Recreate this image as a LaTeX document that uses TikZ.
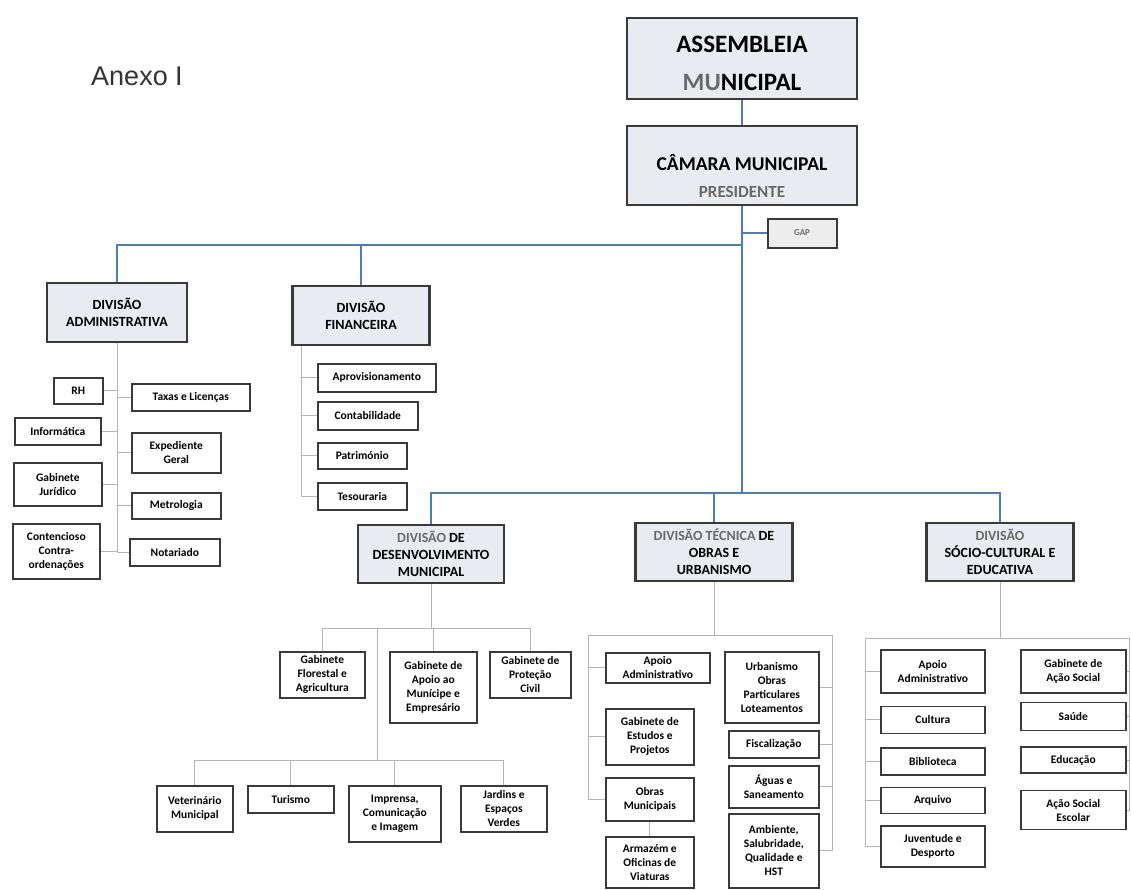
\documentclass[tikz,border=0pt]{standalone}
\usepackage{fontspec}
\setmainfont{Carlito}
\newfontfamily\anexofont{Liberation Sans}
\usepackage{xcolor}
\usetikzlibrary{positioning}
\definecolor{divfill}{HTML}{E8ECF0}
\definecolor{linkblue}{HTML}{4F7DBA}
\definecolor{linkgray}{HTML}{B4B4B4}
\definecolor{boxline}{HTML}{3A3A3A}
\definecolor{softtext}{HTML}{6A6A6A}

\begin{document}
\begin{tikzpicture}[x=1pt,y=-1pt,
    topbox/.style={draw=boxline,line width=2.2pt,fill=divfill,align=center,inner sep=2pt,text=black},
    divbox/.style={draw=boxline,line width=2.4pt,fill=divfill,align=center,inner sep=2pt,text=black,
      font=\fontsize{14}{17}\selectfont\bfseries},
    unitbox/.style={draw=boxline,line width=1.6pt,fill=white,align=center,inner sep=1.5pt,text=black,
      font=\fontsize{11.5}{14}\selectfont\bfseries,anchor=north west},
    bluelink/.style={linkblue,line width=2pt},
    graylink/.style={linkgray,line width=0.9pt}
  ]
    \fill[white] (0,0) rectangle (1131,889);
    \useasboundingbox (0,0) rectangle (1131,889);

    \node[font=\anexofont\fontsize{27}{32}\selectfont,text=black!80] (anexo) at (137,76) {Anexo I};

    \node[topbox,minimum width=230pt,minimum height=81pt,font=\fontsize{25}{38}\selectfont\bfseries] (asm) at (742,58.5)
      {\rule{0pt}{26pt}ASSEMBLEIA\\\textcolor{softtext}{MU}NICIPAL};
    \node[topbox,minimum width=230pt,minimum height=79pt,font=\fontsize{19.5}{27}\selectfont\bfseries] (cam) at (742,165.5)
      {\rule{0pt}{38pt}CÂMARA MUNICIPAL\\{\fontsize{17}{20}\selectfont\color{softtext}PRESIDENTE}};
    \node[topbox,line width=2pt,fill=black!7,minimum width=69pt,minimum height=29pt,
      font=\fontsize{9}{10}\selectfont\bfseries,text=softtext] (gap) at (802,233) {GAP};

    \node[divbox,minimum width=140pt,minimum height=59pt] (da) at (117,312.5) {DIVISÃO\\ADMINISTRATIVA};
    \node[divbox,minimum width=137pt,minimum height=59pt] (df) at (361,315.5) {DIVISÃO\\FINANCEIRA};
    \node[divbox,minimum width=146pt,minimum height=58pt] (ddm) at (431,554)
      {\textcolor{softtext}{DIVISÃO} DE\\DESENVOLVIMENTO\\MUNICIPAL};
    \node[divbox,minimum width=157pt,minimum height=58pt] (dtou) at (714,552)
      {\textcolor{softtext}{DIVISÃO TÉCNICA} DE\\OBRAS E\\URBANISMO};
    \node[divbox,minimum width=147pt,minimum height=58pt] (dsce) at (1000,552)
      {\textcolor{softtext}{DIVISÃO}\\SÓCIO-CULTURAL E\\EDUCATIVA};

    \coordinate (jgap) at (742,233);
    \coordinate (jtop) at (742,245);
    \coordinate (jlow) at (742,493);
    \draw[bluelink] (asm.south) -- (cam.north);
    \draw[bluelink] (cam.south) -- (jlow);
    \draw[bluelink] (jgap) -- (gap.west);
    \draw[bluelink] (jtop) -| (da.north);
    \draw[bluelink] (jtop) -| (df.north);
    \draw[bluelink] (jlow) -| (ddm.north);
    \draw[bluelink] (jlow) -| (dtou.north);
    \draw[bluelink] (jlow) -| (dsce.north);

    % divisao administrativa
    \node[unitbox,minimum width=49pt,minimum height=26pt] (rh) at (53,377) {RH};
    \node[unitbox,minimum width=118pt,minimum height=27pt] (tax) at (131,383) {Taxas e Licenças};
    \node[unitbox,minimum width=86pt,minimum height=27pt] (inf) at (14,417) {Informática};
    \node[unitbox,minimum width=89pt,minimum height=40pt] (exped) at (131,432) {Expediente\\Geral};
    \node[unitbox,minimum width=88pt,minimum height=43pt] (jur) at (13,462) {Gabinete\\Jurídico};
    \node[unitbox,minimum width=89pt,minimum height=26pt] (metro) at (131,492) {Metrologia};
    \node[unitbox,minimum width=87pt,minimum height=55pt] (contenc) at (12,523) {Contencioso\\Contra-\\ordenações};
    \node[unitbox,minimum width=90pt,minimum height=27pt] (nota) at (129,538) {Notariado};

    \draw[graylink] (da.south) |- (contenc.east);
    \foreach \n in {rh,inf,jur}
      \draw[graylink] (\n.east) -- (\n.east -| da.south);
    \foreach \n in {tax,exped,metro,nota}
      \draw[graylink] (\n.west -| da.south) -- (\n.west);

    % divisao financeira
    \node[unitbox,minimum width=118pt,minimum height=28pt] (aprov) at (317,363) {Aprovisionamento};
    \node[unitbox,minimum width=100pt,minimum height=28pt] (contab) at (317,401) {Contabilidade};
    \node[unitbox,minimum width=89pt,minimum height=26pt] (patri) at (317,442) {Património};
    \node[unitbox,minimum width=89pt,minimum height=27pt] (tesou) at (317,482) {Tesouraria};

    \coordinate (fsp) at ([xshift=10pt]df.south west);
    \draw[graylink] (fsp) |- (tesou.west);
    \foreach \n in {aprov,contab,patri}
      \draw[graylink] (fsp |- \n.west) -- (\n.west);

    % divisao de desenvolvimento municipal
    \node[unitbox,minimum width=85pt,minimum height=46pt] (gflor) at (279,651) {Gabinete\\Florestal e\\Agricultura};
    \node[unitbox,minimum width=87pt,minimum height=71pt] (gapoio) at (389,651) {Gabinete de\\Apoio ao\\Munícipe e\\Empresário};
    \node[unitbox,minimum width=81pt,minimum height=46pt] (gprot) at (489,651) {Gabinete de\\Proteção\\Civil};
    \node[unitbox,minimum width=76pt,minimum height=46pt] (veter) at (156,785) {Veterinário\\Municipal};
    \node[unitbox,minimum width=86pt,minimum height=27pt] (turis) at (247,785) {Turismo};
    \node[unitbox,minimum width=92pt,minimum height=56pt] (impr) at (348,785) {Imprensa,\\Comunicação\\e Imagem};
    \node[unitbox,minimum width=86pt,minimum height=46pt] (jard) at (460,785) {Jardins e\\Espaços\\Verdes};

    \coordinate (dj) at (431,628);
    \coordinate (dk) at (377,628);
    \coordinate (dl) at (377,760);
    \draw[graylink] (ddm.south) -- (dj);
    \foreach \n in {gflor,gapoio,gprot}
      \draw[graylink] (dj) -| (\n.north);
    \draw[graylink] (dk) -- (dl);
    \foreach \n in {veter,turis,impr,jard}
      \draw[graylink] (dl) -| (\n.north);

    % divisao tecnica de obras e urbanismo
    \node[unitbox,minimum width=104pt,minimum height=30pt] (apoiot) at (605,652) {Apoio\\Administrativo};
    \node[unitbox,minimum width=88pt,minimum height=56pt] (gest) at (605,708) {Gabinete de\\Estudos e\\Projetos};
    \node[unitbox,minimum width=88pt,minimum height=43pt] (obras) at (605,777) {Obras\\Municipais};
    \node[unitbox,minimum width=88pt,minimum height=51pt] (armaz) at (605,836) {Armazém e\\Oficinas de\\Viaturas};
    \node[unitbox,minimum width=94pt,minimum height=71pt] (urban) at (724,651) {Urbanismo\\Obras\\Particulares\\Loteamentos};
    \node[unitbox,minimum width=90pt,minimum height=27pt] (fiscal) at (728,730) {Fiscalização};
    \node[unitbox,minimum width=90pt,minimum height=42pt] (aguas) at (728,765) {Águas e\\Saneamento};
    \node[unitbox,minimum width=90pt,minimum height=74pt] (ambi) at (728,813) {Ambiente,\\Salubridade,\\Qualidade e\\HST};

    \coordinate (tl) at (588,635);
    \coordinate (tr) at (832,635);
    \draw[graylink] (dtou.south) -- (dtou.south |- tl);
    \draw[graylink] (tl) -- (tr);
    \draw[graylink] (tl) |- (obras.west);
    \foreach \n in {apoiot,gest}
      \draw[graylink] (tl |- \n.west) -- (\n.west);
    \draw[graylink] (tr) |- (ambi.east);
    \foreach \n in {urban,fiscal,aguas}
      \draw[graylink] (\n.east) -- (tr |- \n.east);
    \draw[graylink] (obras.south) -- (armaz.north);

    % divisao socio-cultural e educativa
    \node[unitbox,minimum width=104pt,minimum height=43pt] (apoios) at (880,649) {Apoio\\Administrativo};
    \node[unitbox,anchor=north,minimum width=104pt,minimum height=27pt,below=12pt of apoios] (cult) {Cultura};
    \node[unitbox,anchor=north,minimum width=104pt,minimum height=27pt,below=13pt of cult] (biblio) {Biblioteca};
    \node[unitbox,anchor=north,minimum width=104pt,minimum height=26pt,below=11pt of biblio] (arq) {Arquivo};
    \node[unitbox,anchor=north,minimum width=104pt,minimum height=41pt,below=11pt of arq] (juv) {Juventude e\\Desporto};
    \node[unitbox,minimum width=105pt,minimum height=43pt] (gsocial) at (1020,649) {Gabinete de\\Ação Social};
    \node[unitbox,anchor=north,minimum width=105pt,minimum height=28pt,below=8pt of gsocial] (saude) {Saúde};
    \node[unitbox,anchor=north,minimum width=105pt,minimum height=26pt,below=15pt of saude] (educ) {Educação};
    \node[unitbox,anchor=north,minimum width=105pt,minimum height=39pt,below=16pt of educ] (asesc) {Ação Social\\Escolar};

    \coordinate (sl) at (865,638);
    \coordinate (sr) at (1129,638);
    \draw[graylink] (dsce.south) -- (dsce.south |- sl);
    \draw[graylink] (sl) -- (sr);
    \draw[graylink] (sl) |- (juv.west);
    \foreach \n in {apoios,cult,biblio,arq}
      \draw[graylink] (sl |- \n.west) -- (\n.west);
    \draw[graylink] (sr) |- (asesc.east);
    \foreach \n in {gsocial,saude,educ}
      \draw[graylink] (\n.east) -- (sr |- \n.east);
  \end{tikzpicture}
\end{document}
